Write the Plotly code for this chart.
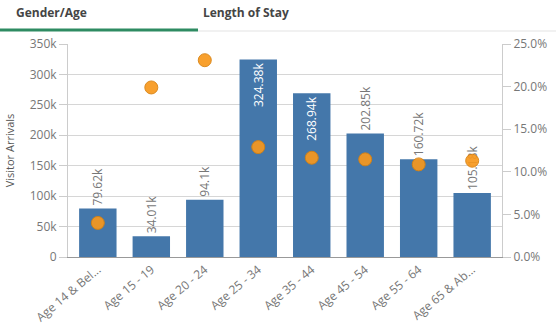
import plotly.graph_objects as go

categories = ["Age 14 & Bel...", "Age 15 - 19", "Age 20 - 24", "Age 25 - 34",
              "Age 35 - 44", "Age 45 - 54", "Age 55 - 64", "Age 65 & Ab..."]
arrivals = [79620, 34010, 94100, 324380, 268940, 202850, 160720, 105180]
arrival_labels = ["79.62k", "34.01k", "94.1k", "324.38k", "268.94k", "202.85k", "160.72k", "105.18k"]
share = [0.040, 0.199, 0.231, 0.129, 0.1165, 0.1146, 0.1087, 0.113]
left_ticks = [0, 50000, 100000, 150000, 200000, 250000, 300000, 350000]
left_tick_labels = ["0", "50k", "100k", "150k", "200k", "250k", "300k", "350k"]
right_ticks = [0, 0.05, 0.10, 0.15, 0.20, 0.25]
right_tick_labels = ["0.0%", "5.0%", "10.0%", "15.0%", "20.0%", "25.0%"]

W, H = 556, 325
L, R, T, B = 68, 54, 44, 68
PW, PH = W - L - R, H - T - B

def px(x):
    return (x - L) / PW

def py(y):
    return (H - B - y) / PH

font = "Open Sans"
grey = "#777777"

positions = ["inside" if v > 250000 else "outside" for v in arrivals]
text_colors = ["white" if p == "inside" else grey for p in positions]

fig = go.Figure()
fig.add_trace(go.Bar(
    x=categories, y=arrivals, text=arrival_labels,
    textposition=positions, textangle=-90, insidetextanchor="end",
    constraintext="none",
    textfont=dict(family=font, size=12, color=text_colors),
    marker=dict(color="#4477aa", line=dict(width=0)),
    cliponaxis=False, hoverinfo="x+y", name="Visitor Arrivals",
))
fig.add_trace(go.Scatter(
    x=categories, y=share, yaxis="y2", mode="markers",
    marker=dict(size=13, color="#f8981d", opacity=0.92,
                line=dict(color="#d9820f", width=1)),
    name="Share",
))

fig.update_layout(
    width=W, height=H, margin=dict(l=L, r=R, t=T, b=B, autoexpand=False),
    paper_bgcolor="white", plot_bgcolor="white",
    showlegend=False, bargap=0.3,
    font=dict(family=font, size=12, color=grey),
    xaxis=dict(tickangle=-40, automargin=False,
               tickfont=dict(family=font, size=12, color=grey),
               showline=True, linecolor="#999999", linewidth=1, ticks="",
               showgrid=False),
    yaxis=dict(range=[0, 350000], tickvals=left_ticks, ticktext=left_tick_labels,
               automargin=False,
               showgrid=True, gridcolor="#d6d6d6", gridwidth=1,
               showline=True, linecolor="#cccccc", ticks="outside", ticklen=8,
               tickcolor="#cccccc", zeroline=False,
               tickfont=dict(family=font, size=12, color=grey),
               title=dict(text="Visitor Arrivals", standoff=12,
                          font=dict(family=font, size=11, color="#595959"))),
    yaxis2=dict(range=[0, 0.25], overlaying="y", side="right", automargin=False,
                tickvals=right_ticks, ticktext=right_tick_labels,
                showgrid=False, showline=True, linecolor="#cccccc",
                ticks="outside", ticklen=8, tickcolor="#cccccc", zeroline=False,
                tickfont=dict(family=font, size=12, color=grey)),
)

# Tab header
fig.add_shape(type="line", xref="paper", yref="paper",
              x0=px(198), x1=px(556), y0=py(31), y1=py(31),
              line=dict(color="#e3e3e3", width=1))
fig.add_shape(type="line", xref="paper", yref="paper",
              x0=px(0), x1=px(198), y0=py(30), y1=py(30),
              line=dict(color="#2e8b62", width=3))
fig.add_annotation(text="<b>Gender/Age</b>", xref="paper", yref="paper",
                   x=px(14), y=py(12), xanchor="left", yanchor="middle",
                   showarrow=False, font=dict(family=font, size=12, color="#454545"))
fig.add_annotation(text="<b>Length of Stay</b>", xref="paper", yref="paper",
                   x=px(201), y=py(12), xanchor="left", yanchor="middle",
                   showarrow=False, font=dict(family=font, size=12, color="#454545"))

fig.write_html("out.html")
